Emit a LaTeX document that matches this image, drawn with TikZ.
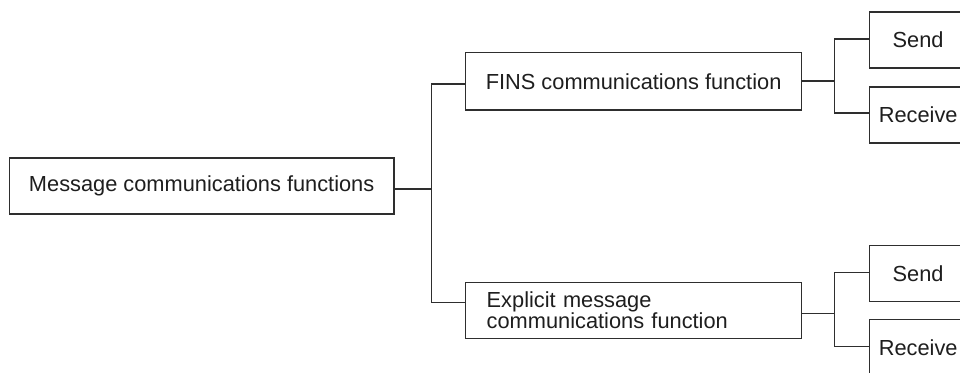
\documentclass[tikz,border=0pt]{standalone}
\usepackage{fontspec}
\setmainfont{Liberation Sans}
\definecolor{linec}{HTML}{2E2E2E}
\definecolor{textc}{HTML}{1E1E1E}
\begin{document}
\begin{tikzpicture}[x=1pt,y=-1pt,
  box/.style={draw=linec, line width=1.2pt, inner sep=0pt, text=textc,
    font=\fontsize{21.8}{20}\selectfont, minimum height=56pt},
  conn/.style={draw=linec, line width=1.2pt}]
\useasboundingbox (0,0) rectangle (960,372);
\clip (0,0) rectangle (960,372);
\fill[white] (0,0) rectangle (960,372);
% nodes
\node[box, minimum width=384.7pt] (main) at (201.65,186) {Message communications functions};
\node[box, minimum width=335.8pt, minimum height=57.3pt] (fins) at (633.6,81.35) {FINS communications function};
\node[box, minimum width=335.8pt, minimum height=56.2pt, text width=293.8pt, inner xsep=21pt, align=left] (expl) at (633.6,310.4) {Explicit message\\communications function};
\node[box, minimum width=97.7pt] (send1) at (918.15,40) {Send};
\node[box, minimum width=97.7pt] (recv1) at (918.15,115) {Receive};
\node[box, minimum width=97.7pt, minimum height=55.8pt] (send2) at (918.15,273.4) {Send};
\node[box, minimum width=97.7pt] (recv2) at (918.15,347.3) {Receive};
% junction coordinates
\coordinate (j0) at (431.5,189);
\coordinate (jf) at (431.5,84);
\coordinate (je) at (431.5,302.3);
\coordinate (k1) at (834.5,81);
\coordinate (k1s) at (834.5,39);
\coordinate (k1r) at (834.5,113);
\coordinate (k2) at (834.5,313.7);
\coordinate (k2s) at (834.5,272.3);
\coordinate (k2r) at (834.5,346.3);
% connectors
\draw[conn] (main.east |- j0) -- (j0);
\draw[conn] (fins.west |- jf) -- (jf) -- (je) -- (expl.west |- je);
\draw[conn] (fins.east |- k1) -- (k1);
\draw[conn] (send1.west |- k1s) -- (k1s) -- (k1r) -- (recv1.west |- k1r);
\draw[conn] (expl.east |- k2) -- (k2);
\draw[conn] (send2.west |- k2s) -- (k2s) -- (k2r) -- (recv2.west |- k2r);
\end{tikzpicture}
\end{document}
